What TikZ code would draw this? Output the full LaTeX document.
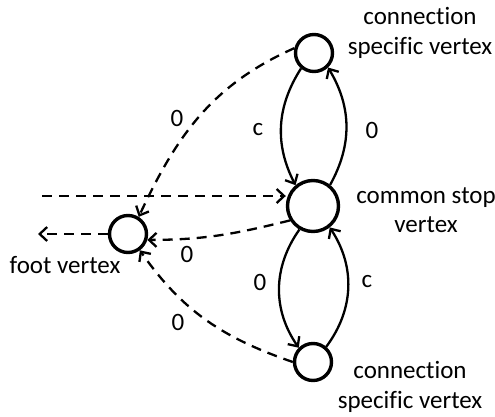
\documentclass[tikz,border=0pt]{standalone}
\usepackage{fontspec}
\setmainfont{Carlito}[Ligatures=NoCommon]
\usetikzlibrary{arrows.meta}
\begin{document}
\begin{tikzpicture}[x=1pt,y=1pt,
  vertex/.style={circle,draw,line width=3.4pt,inner sep=0pt,minimum size=#1},
  vertex/.default=37pt,
  txt/.style={font=\fontsize{25}{29.5}\selectfont,align=center,inner sep=0pt},
  arc/.style={line width=2.3pt,-{Straight Barb[length=7.5pt,width=14pt]}},
  dasharc/.style={arc,dash pattern=on 10pt off 7pt},
]
\useasboundingbox (0,0) rectangle (495,416);

% vertices
\node[vertex] (top) at (314,363) {};
\node[vertex=51pt] (mid) at (313,210) {};
\node[vertex] (bot) at (313,54) {};
\node[vertex] (foot) at (128,182) {};
\coordinate (src) at (42,220);
\coordinate (snk) at (38,182);

% vertex names
\node[txt] (ltop) at (420,383) {connection\\specific vertex};
\node[txt] (lmid) at (426,206) {common stop\\vertex};
\node[txt] (lbot) at (410,29) {connection\\specific vertex};
\node[txt] (lfoot) at (65,151) {foot vertex};

% solid arcs between the connection vertices and the common stop vertex
\draw[arc] (top.230) to[bend right=30] (mid.130);
\draw[arc] (mid.51) to[bend right=30] (top.314);
\draw[arc] (mid.240) to[bend right=35] (bot.135);
\draw[arc] (bot.49) to[bend right=35] (mid.308);

% dashed arcs
\draw[dasharc] (top.166) to[out=204,in=65] (foot.58);
\draw[dasharc] (src) -- (mid.west |- src);
\draw[dasharc] (mid.212) to[out=194,in=0] (foot.343);
\draw[dasharc] (bot.180) to[out=161,in=305] (foot.306);
\draw[dasharc] (foot.west) -- (snk);

% arc weights
\node[txt] (w1) at (177,298) {0};
\node[txt] (w2) at (258,286) {c};
\node[txt] (w3) at (372,286) {0};
\node[txt] (w4) at (187,162) {0};
\node[txt] (w5) at (260,134) {0};
\node[txt] (w6) at (367,134) {c};
\node[txt] (w7) at (178,94) {0};
\end{tikzpicture}
\end{document}
